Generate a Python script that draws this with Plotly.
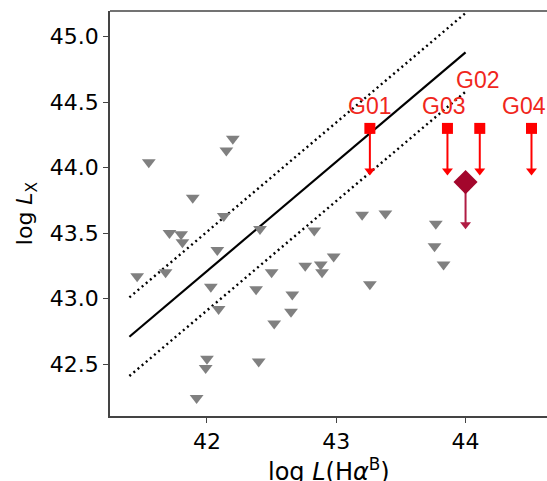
import plotly.graph_objects as go

# Gray upper limits (log L(Ha^B), log L_X)
tri_x = [41.55, 42.20, 42.15, 41.89, 42.13, 41.71, 41.80, 41.81, 42.41, 42.08,
         41.46, 41.68, 42.03, 42.09, 42.00, 41.99, 41.92, 42.38, 42.40, 42.50,
         42.52, 42.66, 42.65, 42.76, 42.83, 42.88, 42.89, 42.98, 43.20, 43.38,
         43.26, 43.77, 43.76, 43.83]
tri_y = [44.03, 44.21, 44.12, 43.76, 43.62, 43.49, 43.48, 43.42, 43.52, 43.36,
         43.16, 43.19, 43.08, 42.91, 42.53, 42.46, 42.23, 43.06, 42.51, 43.19,
         42.80, 43.02, 42.89, 43.24, 43.51, 43.25, 43.19, 43.31, 43.63, 43.64,
         43.10, 43.56, 43.39, 43.25]

# Relation and scatter
rel_x = [41.40, 44.00]
rel_y = [42.71, 44.88]
rel_scatter = 0.30

# Named groups (upper limits)
g_names = ["G01", "G02", "G03", "G04"]
g_x = [43.26, 44.11, 43.86, 44.51]
g_y = [44.30, 44.30, 44.30, 44.30]
lab_x = [43.26, 44.09, 43.83, 44.45]
lab_y = [44.47, 44.67, 44.47, 44.47]

# Stacked point
d_x = [44.00]
d_y = [43.89]

arrow_len = 0.36

x_range = [41.25, 44.63]
y_range = [42.105, 45.196]

W, H = 547, 481
ML, MR, MT, MB = 110, 0, 11, 65
ypp = (y_range[1] - y_range[0]) / (H - MT - MB)

fig = go.Figure()

# relation lines
fig.add_trace(go.Scatter(x=rel_x, y=rel_y, mode="lines",
                         line=dict(color="black", width=2.2), hoverinfo="skip"))
for s in (rel_scatter, -rel_scatter):
    fig.add_trace(go.Scatter(x=rel_x, y=[v + s for v in rel_y], mode="lines",
                             line=dict(color="black", width=2.4, dash="2px,3.4px"),
                             hoverinfo="skip"))

# gray triangles
fig.add_trace(go.Scatter(x=tri_x, y=[v + 1.5 * ypp for v in tri_y], mode="markers",
                         marker=dict(symbol="triangle-down", size=12, color="#808080"),
                         hoverinfo="skip"))

head_size = 9.5
head_r = head_size / 2.0


def add_arrow(x, y0, color, width):
    tip = y0 - arrow_len
    hc = tip + head_r * ypp
    fig.add_trace(go.Scatter(x=[x, x], y=[y0, hc], mode="lines",
                             line=dict(color=color, width=width), hoverinfo="skip"))
    fig.add_trace(go.Scatter(x=[x], y=[hc], mode="markers",
                             marker=dict(symbol="triangle-down", size=head_size, color=color),
                             hoverinfo="skip"))


for x, y in zip(g_x, g_y):
    add_arrow(x, y, "#ff0000", 2)
fig.add_trace(go.Scatter(x=g_x, y=g_y, mode="markers",
                         marker=dict(symbol="square", size=11, color="#ff0000"),
                         hoverinfo="skip"))

add_arrow(d_x[0], d_y[0], "#b01c44", 2)
fig.add_trace(go.Scatter(x=d_x, y=d_y, mode="markers",
                         marker=dict(symbol="diamond", size=18.5, color="#a3062c"),
                         hoverinfo="skip"))

for n, x, y in zip(g_names, lab_x, lab_y):
    fig.add_annotation(x=x, y=y, text=n, showarrow=False, xanchor="center",
                       yanchor="middle",
                       font=dict(family="Liberation Sans", size=23, color="#f0261c"))

# x-axis title as annotation (sits partly below the canvas, as in the reference)
fig.add_annotation(xref="paper", yref="paper", x=0.5, y=0, xanchor="center",
                   yanchor="top", yshift=-36, showarrow=False,
                   text="log <i>L</i>(H<i>α</i><sup>B</sup>)",
                   font=dict(family="DejaVu Sans", size=24, color="black"))

fig.add_shape(type="line", xref="paper", yref="paper", x0=0, x1=1, y0=1, y1=1,
              line=dict(color="#444444", width=1.5))

axis_common = dict(showline=True, linecolor="#444444", linewidth=1.5,
                   ticks="outside", ticklen=5, tickwidth=1.2, tickcolor="#444444",
                   showgrid=False, zeroline=False, automargin=False,
                   tickfont=dict(family="DejaVu Sans", size=22, color="black"))

fig.update_layout(
    width=W, height=H, autosize=False,
    margin=dict(l=ML, r=MR, t=MT, b=MB, pad=0),
    plot_bgcolor="white", paper_bgcolor="white",
    showlegend=False,
    xaxis=dict(range=x_range, tickvals=[42, 43, 44], ticktext=["42", "43", "44"],
               **axis_common),
    yaxis=dict(range=y_range, tickvals=[42.5, 43.0, 43.5, 44.0, 44.5, 45.0],
               ticktext=["42.5", "43.0", "43.5", "44.0", "44.5", "45.0"],
               title=dict(text="log <i>L</i><sub>X</sub>",
                          font=dict(family="DejaVu Sans", size=22, color="black"),
                          standoff=11),
               **axis_common),
)

fig.write_html("out.html", config={"displayModeBar": False},
               post_script="document.body.style.margin='0';document.body.style.overflow='hidden';")
